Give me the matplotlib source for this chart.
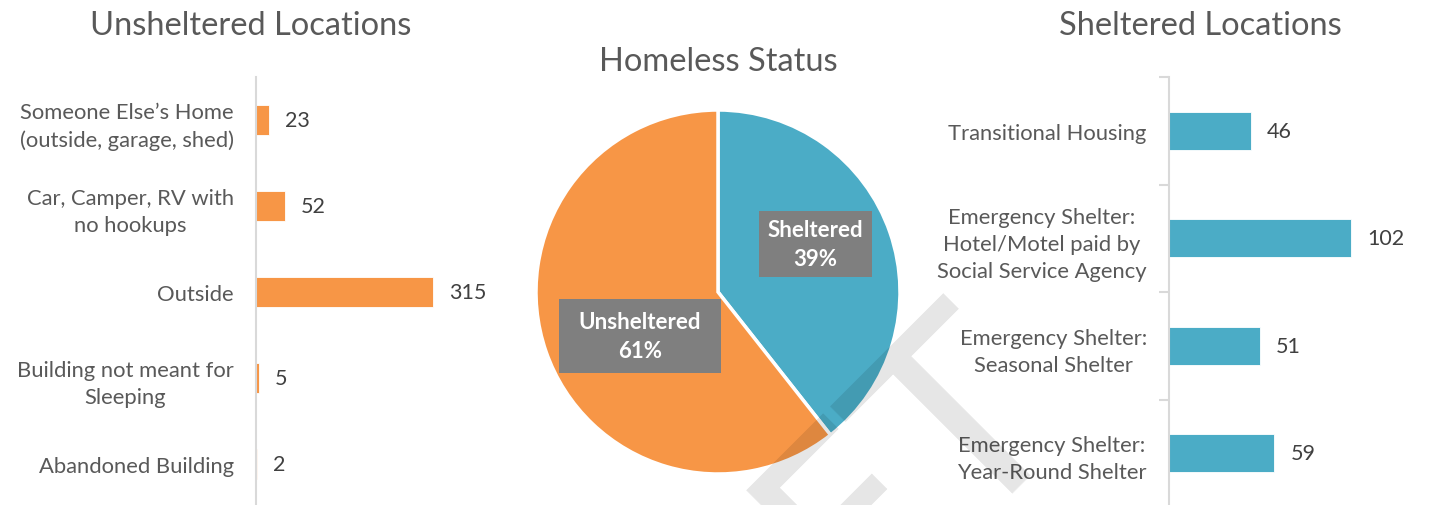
import matplotlib
matplotlib.use("Agg")
import matplotlib.pyplot as plt
from matplotlib.patches import Rectangle

# ---------------- data ----------------
unsheltered_labels = ["Someone Else\u2019s Home\n(outside, garage, shed)",
                      "Car, Camper, RV with\nno hookups",
                      "Outside",
                      "Building not meant for\nSleeping",
                      "Abandoned Building"]
unsheltered_values = [23, 52, 315, 5, 2]

sheltered_labels = ["Transitional Housing",
                    "Emergency Shelter:\nHotel/Motel paid by\nSocial Service Agency",
                    "Emergency Shelter:\nSeasonal Shelter",
                    "Emergency Shelter:\nYear-Round Shelter"]
sheltered_values = [46, 102, 51, 59]

status_labels = ["Sheltered", "Unsheltered"]
status_values = [sum(sheltered_values), sum(unsheltered_values)]

# ---------------- style ----------------
ORANGE = "#F79646"
TEAL = "#4BACC6"
TXT = "#595959"
AXC = "#D9D9D9"
FONT = "Lato"
plt.rcParams["font.family"] = [FONT, "DejaVu Sans"]

W, H = 1430, 506
fig = plt.figure(figsize=(W / 100, H / 100), dpi=100)


def px_axes(x0, y0, x1, y1):
    return fig.add_axes([x0 / W, (H - y1) / H, (x1 - x0) / W, (y1 - y0) / H])


def bar_panel(ax, labels, values, color, px_per_unit, width_px, ticks):
    n = len(values)
    ax.barh(range(n), values, height=0.35, color=color, edgecolor="white", linewidth=0.6)
    ax.set_ylim(n - 0.5, -0.5)
    ax.set_xlim(0, width_px / px_per_unit)
    ax.set_yticks(range(n))
    ax.set_yticklabels(labels, fontsize=15.8, color=TXT, multialignment="center",
                       linespacing=1.45)
    ax.tick_params(axis="y", which="major", length=0, pad=16)
    if ticks:
        ax.set_yticks([k - 0.5 for k in range(n + 1)], minor=True)
        ax.tick_params(axis="y", which="minor", length=7, width=1.5, color=AXC)
    ax.set_xticks([])
    for s in ["top", "right", "bottom"]:
        ax.spines[s].set_visible(False)
    ax.spines["left"].set_color(AXC)
    ax.spines["left"].set_linewidth(1.5)
    off = 16 / px_per_unit
    for i, v in enumerate(values):
        ax.text(v + off, i, str(v), va="center", ha="left", fontsize=15.5, color="#404040")
    ax.patch.set_alpha(0)


# left panel
axL = px_axes(256, 78, 520, 508)
bar_panel(axL, unsheltered_labels, unsheltered_values, ORANGE, 0.562, 264, False)

# right panel
axR = px_axes(1169, 78, 1430, 508)
bar_panel(axR, sheltered_labels, sheltered_values, TEAL, 1.785, 261, True)

# pie
cx, cy, r = 718, 293, 182
axP = px_axes(cx - r, cy - r, cx + r, cy + r)
axP.pie(status_values, colors=[TEAL, ORANGE], startangle=90, counterclock=False,
        wedgeprops=dict(edgecolor="white", linewidth=2.5), radius=1)
axP.set_xlim(-1, 1)
axP.set_ylim(-1, 1)
axP.set_aspect("equal")
axP.axis("off")

tot = sum(status_values)
boxes = [(0.225, 0.082, 0.846 - 0.225, 0.445 - 0.082, 0.535, 0.264),
         (-0.874, -0.445, 0.016 + 0.874, -0.038 + 0.445, -0.429, -0.242)]
for lab, val, (bx, by, bw, bh, tx, ty) in zip(status_labels, status_values, boxes):
    axP.add_patch(Rectangle((bx, by), bw, bh, facecolor="#7F7F7F", edgecolor="none", zorder=5))
    axP.text(tx, ty, f"{lab}\n{round(100 * val / tot)}%", ha="center", va="center",
             color="white", fontsize=16, fontweight="bold", linespacing=1.45, zorder=6)

# titles
fig.text(251 / W, 1 - 26 / H, "Unsheltered Locations", ha="center", va="center",
         fontsize=23.5, color=TXT)
fig.text(718 / W, 1 - 62 / H, "Homeless Status", ha="center", va="center",
         fontsize=23.5, color=TXT)
fig.text(1200 / W, 1 - 26 / H, "Sheltered Locations", ha="center", va="center",
         fontsize=23.5, color=TXT)

# watermark
fig.text(1071 / W, 1 - 410 / H, "DRAFT", rotation=45, rotation_mode="anchor",
         ha="right", va="baseline", fontsize=187, color="black", alpha=0.1,
         family="DejaVu Sans", zorder=10)

fig.savefig("out.png", dpi=100)
